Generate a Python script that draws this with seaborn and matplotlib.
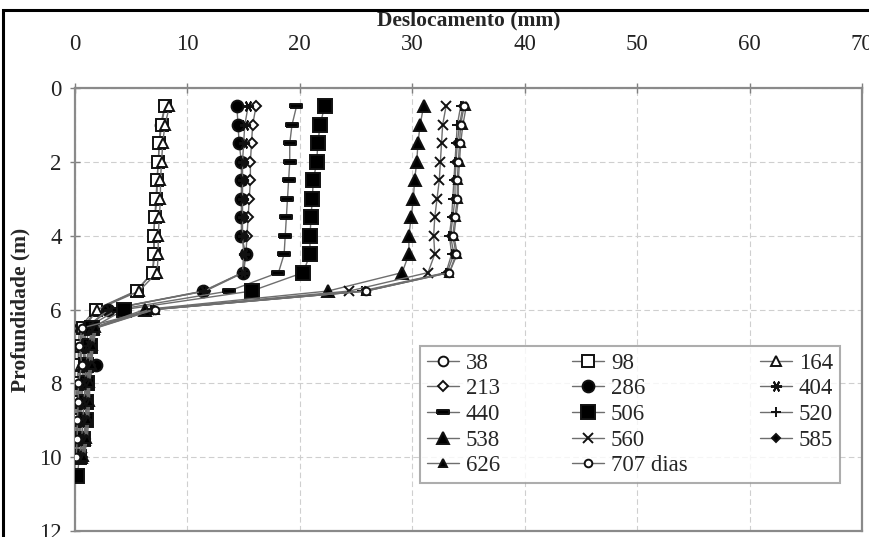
import numpy as np
import pandas as pd
import matplotlib
matplotlib.use("Agg")
import matplotlib.pyplot as plt
import seaborn as sns
from matplotlib.patches import Rectangle

# ---------------- data ----------------
depths = [0.5, 1.0, 1.5, 2.0, 2.5, 3.0, 3.5, 4.0, 4.5, 5.0, 5.5, 6.0,
          6.5, 7.0, 7.5, 8.0, 8.5, 9.0, 9.5, 10.0, 10.5]

series_labels = ["38", "98", "164", "213", "286", "404", "440", "506",
                 "520", "538", "560", "585", "626", "707 dias"]

d38 = [8.0, 7.6, 7.5, 7.4, 7.3, 7.3, 7.1, 7.0, 7.1, 6.9, 5.4, 1.8, 0.4, 0.3, 0.3, 0.2, 0.1, 0.1, 0.1, 0.0]
d98 = [8.0, 7.7, 7.5, 7.4, 7.3, 7.2, 7.1, 7.0, 7.0, 6.9, 5.5, 1.9, 0.7, 0.5, 0.4, 0.3, 0.2, 0.2, 0.1, 0.1]
d164 = [8.4, 8.0, 7.8, 7.7, 7.6, 7.6, 7.5, 7.4, 7.4, 7.3, 5.7, 2.0, 0.8, 0.6, 0.5, 0.4, 0.3, 0.3, 0.2, 0.1]
d213 = [16.1, 15.8, 15.7, 15.6, 15.6, 15.5, 15.4, 15.3, 15.2, 15.0, 11.6, 3.0, 0.9, 0.7, 0.8, 0.5, 0.4, 0.4, 0.3, 0.2]
d286 = [14.4, 14.5, 14.6, 14.8, 14.8, 14.8, 14.8, 14.8, 15.2, 14.9, 11.4, 2.9, 1.2, 1.0, 1.9, 1.0, 0.8, 0.7, 0.6, 0.3]
d404 = [15.4, 15.1, 15.0, 14.9, 14.9, 14.9, 14.9, 14.9, 15.0, 14.9, 11.5, 3.0, 1.0, 0.8, 1.0, 0.6, 0.5, 0.5, 0.4, 0.2]
d440 = [19.7, 19.3, 19.1, 19.1, 19.0, 18.9, 18.8, 18.7, 18.6, 18.1, 13.7, 3.8, 1.0, 0.8, 0.9, 0.7, 0.6, 0.5, 0.4, 0.2]
d506 = [22.2, 21.8, 21.6, 21.5, 21.2, 21.1, 21.0, 20.9, 20.9, 20.3, 15.7, 4.4, 1.5, 1.3, 1.0, 1.1, 1.0, 1.0, 0.7, 0.4, 0.2]
d520 = [34.3, 34.0, 33.9, 33.8, 33.7, 33.6, 33.5, 33.3, 33.5, 33.0, 25.5, 6.8, 1.5, 1.2, 1.0, 0.9, 0.8, 0.7, 0.6, 0.4]
d538 = [31.0, 30.7, 30.5, 30.4, 30.2, 30.1, 29.9, 29.7, 29.7, 29.1, 22.5, 6.2, 1.6, 1.3, 1.2, 1.0, 1.0, 0.9, 0.8, 0.5]
d560 = [33.0, 32.7, 32.6, 32.5, 32.4, 32.2, 32.0, 31.9, 32.0, 31.4, 24.4, 6.6, 1.7, 1.4, 1.3, 1.1, 1.1, 1.0, 0.9, 0.6]
d585 = [34.5, 34.2, 34.0, 33.9, 33.8, 33.8, 33.6, 33.4, 33.7, 33.1, 25.8, 7.0, 1.8, 1.5, 1.4, 1.2, 1.2, 1.1, 1.0, 0.7]
d626 = [34.8, 34.5, 34.3, 34.2, 34.1, 34.1, 33.9, 33.7, 34.0, 33.3, 25.9, 7.1, 1.9, 1.6, 1.5, 1.3, 1.3, 1.2, 1.1, 0.8]
d707 = [34.6, 34.3, 34.2, 34.1, 34.0, 34.0, 33.8, 33.6, 33.9, 33.3, 25.9, 7.1, 0.6, 0.4, 0.6, 0.3, 0.3, 0.2, 0.2, 0.1]

series_values = [d38, d98, d164, d213, d286, d404, d440, d506,
                 d520, d538, d560, d585, d626, d707]

xticks = [0, 10, 20, 30, 40, 50, 60, 70]
yticks = [0, 2, 4, 6, 8, 10, 12]

# ---------------- styles ----------------
dash = [(-1, -0.4), (1, -0.4), (1, 0.4), (-1, 0.4), (-1, -0.4)]
styles = [
    dict(marker="o", ms=7, mfc="white"),
    dict(marker="s", ms=8, mfc="white"),
    dict(marker="^", ms=7.5, mfc="white"),
    dict(marker="D", ms=5.5, mfc="white"),
    dict(marker="o", ms=8.5, mfc="black"),
    dict(marker=(6, 2, 90), ms=8, mfc="black"),
    dict(marker=dash, ms=8, mfc="black"),
    dict(marker="s", ms=9.5, mfc="black"),
    dict(marker="+", ms=7, mfc="black"),
    dict(marker="^", ms=8.5, mfc="black"),
    dict(marker="x", ms=6.5, mfc="black"),
    dict(marker="D", ms=4.5, mfc="black"),
    dict(marker="^", ms=5.5, mfc="black"),
    dict(marker="o", ms=5.5, mfc="white"),
]

sns.set_theme(style="white")
plt.rcParams["font.family"] = ["Liberation Serif", "DejaVu Serif"]

fig = plt.figure(figsize=(8.69, 5.37), dpi=100)
ax = fig.add_axes([75 / 869, 1 - 531 / 537, (862 - 75) / 869, (531 - 88) / 537])

handles = {}
for lab, vals, st in zip(series_labels, series_values, styles):
    df = pd.DataFrame({"x": vals, "y": depths[:len(vals)]})
    sns.lineplot(data=df, x="x", y="y", orient="y", ax=ax, color="#6e6e6e",
                 linewidth=1.0, marker=st["marker"], markersize=st["ms"],
                 markerfacecolor=st["mfc"], markeredgecolor="#111111",
                 markeredgewidth=1.4, label=lab, legend=False, zorder=3)
    handles[lab] = ax.lines[-1]

ax.set_xlim(0, 70)
ax.set_ylim(12, 0)
ax.set_xticks(xticks)
ax.set_yticks(yticks)
ax.xaxis.tick_top()
ax.xaxis.set_label_position("top")
ax.tick_params(axis="x", which="major", direction="inout", length=7, width=1,
               color="#808080", pad=20, labelsize=16.5, labelcolor="#222222")
ax.tick_params(axis="y", which="major", direction="inout", length=7, width=1,
               color="#808080", pad=6, labelsize=16.5, labelcolor="#222222")
ax.tick_params(bottom=False, right=False, top=True, left=True)

ax.grid(True, color="#cfcfcf", linestyle=(0, (5, 3)), linewidth=0.8)
ax.set_axisbelow(True)
for sp in ax.spines.values():
    sp.set_color("#8a8a8a")
    sp.set_linewidth(1.6)
    sp.set_visible(True)

ax.set_xlabel("Deslocamento (mm)", fontsize=15.5, fontweight="bold")
ax.xaxis.set_label_coords(0.5, 1 + (88 - 30) / 443)
ax.xaxis.label.set_verticalalignment("bottom")
ax.set_ylabel("Profundidade (m)", fontsize=15.5, fontweight="bold", labelpad=6)

order = ["38", "213", "440", "538", "626",
         "98", "286", "506", "560", "707 dias",
         "164", "404", "520", "585"]
leg = ax.legend([handles[k] for k in order], order, ncol=3, loc="lower left",
                bbox_to_anchor=(0.438, 0.108, 0.534, 0.33), mode="expand",
                fontsize=16.5, frameon=True, fancybox=False, edgecolor="#999999",
                handlelength=1.4, handletextpad=0.3, labelspacing=0.2,
                borderpad=0.3, columnspacing=1.0, borderaxespad=0)
leg.get_frame().set_linewidth(1.5)

# figure frame
fig.patches.append(Rectangle((3 / 869, -0.01), 1.0, 1 - 10 / 537 + 0.01,
                             transform=fig.transFigure, fill=False,
                             edgecolor="black", linewidth=2.2))

fig.savefig("out.png", dpi=100)
